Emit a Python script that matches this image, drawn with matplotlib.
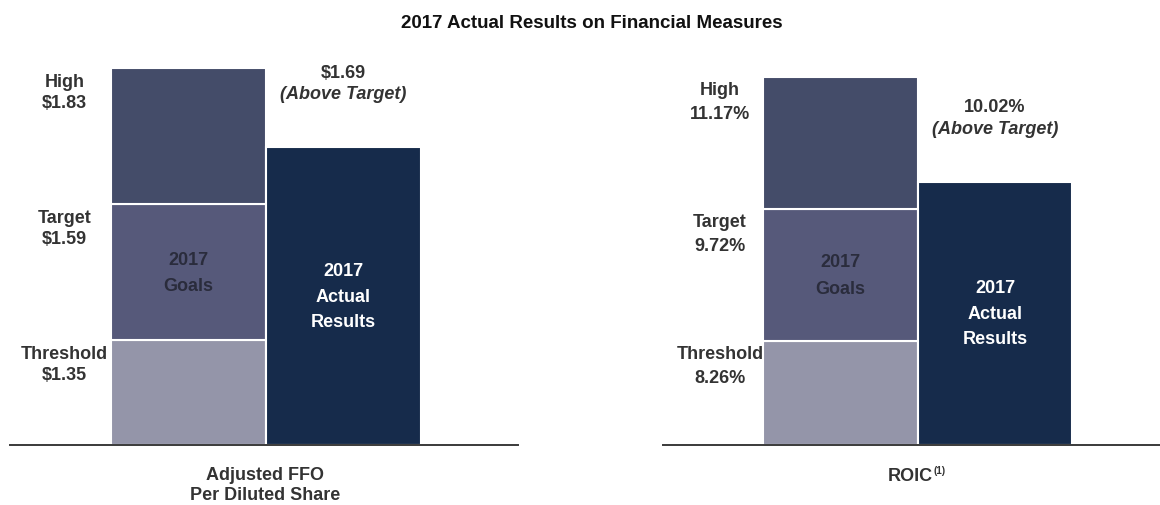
import matplotlib
matplotlib.use("Agg")
import matplotlib.pyplot as plt

plt.rcParams['font.family'] = ['Liberation Sans', 'DejaVu Sans']

# ---- data ----
title = "2017 Actual Results on Financial Measures"
levels = ["Threshold", "Target", "High"]
ffo_goals = [1.35, 1.59, 1.83]
ffo_actual = 1.69
ffo_goal_labels = ["$1.35", "$1.59", "$1.83"]
ffo_actual_label = "$1.69"
roic_goals = [8.26, 9.72, 11.17]
roic_actual = 10.02
roic_goal_labels = ["8.26%", "9.72%", "11.17%"]
roic_actual_label = "10.02%"
bar_names = ["2017\nGoals", "2017\nActual\nResults"]
panel_names = ["Adjusted FFO\nPer Diluted Share", "ROIC"]

# ---- style ----
seg_colors = ["#9495a9", "#56597a", "#444c69"]
actual_color = "#162b4b"
txt = "#333333"
FS = 13
W, H = 1160, 506
fig = plt.figure(figsize=(W / 100, H / 100), dpi=100)

fig.text(592 / W, 1 - 23 / H, title, ha='center', va='center',
         fontsize=13.5, fontweight='bold', color='#111111')


def panel(x0, x1, base, top, xlim, goals, goal_labels, actual, actual_label,
          lbl_x, lsp):
    ax = fig.add_axes([x0 / W, 60 / H, (x1 - x0) / W, 396 / H])
    ax.set_xlim(*xlim)
    ax.set_ylim(base, top)
    prev = base
    for v, c in zip(goals, seg_colors):
        ax.bar(0, v - prev, bottom=prev, width=1.0, color=c,
               edgecolor='white', linewidth=1.5, zorder=2)
        prev = v
    ax.bar(1, actual - base, bottom=base, width=1.0, color=actual_color,
           edgecolor='white', linewidth=1.5, zorder=2)
    for s in ['top', 'left', 'right']:
        ax.spines[s].set_visible(False)
    ax.spines['bottom'].set_color('#3a3a3a')
    ax.spines['bottom'].set_linewidth(1.4)
    ax.set_xticks([])
    ax.set_yticks([])
    ax.patch.set_alpha(0)
    # level labels
    for lev, v, gl in zip(levels, goals, goal_labels):
        ax.annotate(f"{lev}\n{gl}", xy=(lbl_x, v), xytext=(0, -17.5),
                    textcoords='offset points', ha='center', va='center',
                    fontsize=FS, fontweight='bold', color=txt,
                    linespacing=lsp)
    # goals text (centred in the target segment)
    mid_t = (goals[0] + goals[1]) / 2
    ax.text(0, mid_t, bar_names[0], ha='center', va='center', fontsize=FS,
            fontweight='bold', color='#2a2c3c', linespacing=1.7)
    # actual text (centred in the bar)
    mid_a = (base + actual) / 2
    ax.text(1, mid_a, bar_names[1], ha='center', va='center', fontsize=FS,
            fontweight='bold', color='white', linespacing=1.65)
    # actual value label
    ax.annotate(actual_label, xy=(1, actual), xytext=(0, 54),
                textcoords='offset points', ha='center', va='center',
                fontsize=FS, fontweight='bold', color=txt)
    ax.annotate("(Above Target)", xy=(1, actual), xytext=(0, 38.5),
                textcoords='offset points', ha='center', va='center',
                fontsize=FS, fontweight='bold', fontstyle='italic', color=txt)
    return ax


axl = panel(10, 518, 1.165, 1.165 + 396 / 566.8, (-1.152, 2.126),
            ffo_goals, ffo_goal_labels, ffo_actual, ffo_actual_label,
            -0.8, 1.3)
axr = panel(663, 1160, 7.114, 7.114 + 396 / 90.64, (-1.149, 2.068),
            roic_goals, roic_goal_labels, roic_actual, roic_actual_label,
            -0.78, 1.55)

fig.text(265 / W, 1 - 485.5 / H, panel_names[0], ha='center', va='center',
         fontsize=FS, fontweight='bold', color=txt, linespacing=1.3)
fig.text(933 / W, 1 - 477 / H, panel_names[1], ha='right', va='center',
         fontsize=FS, fontweight='bold', color=txt)
fig.text(934 / W, 1 - 471 / H, "(1)", ha='left', va='center',
         fontsize=7, fontweight='bold', color=txt)

fig.savefig("out.png", dpi=100, facecolor='white')
